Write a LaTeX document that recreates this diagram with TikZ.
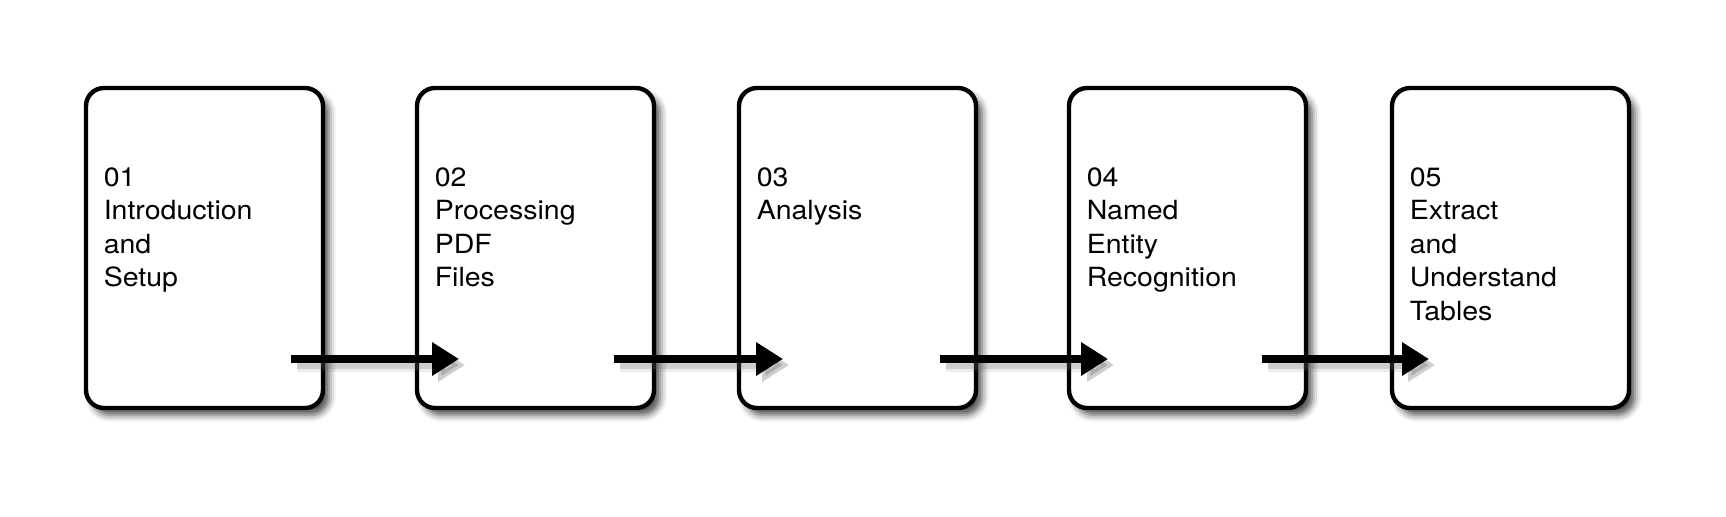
\documentclass[tikz,border=0pt]{standalone}
\usepackage{fontspec}
\setmainfont{TeX Gyre Heros}[FakeStretch=1.08]
\usetikzlibrary{arrows.meta,shadows.blur}
\tikzset{every picture/.style={line width=0.75pt}}
\tikzset{
  stepbox/.style={draw, line width=2.2pt, rounded corners=9pt, fill=white,
    minimum width=118.5pt, minimum height=160pt, inner sep=0pt, outer sep=0pt,
    anchor=north west,
    blur shadow={shadow xshift=3pt, shadow yshift=-3.5pt, shadow blur radius=3.5pt, shadow opacity=70}},
  steptext/.style={anchor=north west, inner sep=0pt, align=left,
    font=\fontsize{13.2pt}{16.75pt}\selectfont},
  flowarrow/.style={line width=4pt, -{Triangle[length=13.5pt,width=16pt]}},
  flowshadow/.style={flowarrow, draw=black!60, fill=black!60, opacity=0.22},
  flowhalo/.style={flowshadow, line width=6.5pt, opacity=0.12}
}

\begin{document}
\begin{tikzpicture}[x=0.5pt,y=0.5pt,yscale=-1,xscale=1]
\useasboundingbox (0,0) rectangle (1726,516);

%Rounded Rect 
\node[stepbox] (s1) at (86,88) {};
%Rounded Rect 
\node[stepbox] (s2) at (417,88) {};
%Rounded Rect 
\node[stepbox] (s3) at (739,88) {};
%Rounded Rect 
\node[stepbox] (s4) at (1069,88) {};
%Rounded Rect 
\node[stepbox] (s5) at (1392,88) {};

% Text Node
\node[steptext] (t1) at ([xshift=8.5pt,yshift=39.5pt]s1.north west) {01\\Introduction\\and\\Setup};
% Text Node
\node[steptext] (t2) at ([xshift=8.5pt,yshift=39.5pt]s2.north west) {02\\Processing\\PDF\\Files};
% Text Node
\node[steptext] (t3) at ([xshift=8.5pt,yshift=39.5pt]s3.north west) {03\\Analysis};
% Text Node
\node[steptext] (t4) at ([xshift=8.5pt,yshift=39.5pt]s4.north west) {04\\Named\\Entity\\Recognition};
% Text Node
\node[steptext] (t5) at ([xshift=8.5pt,yshift=39.5pt]s5.north west) {05\\Extract\\and\\Understand\\Tables};

% arrow ends
\coordinate (o1) at ([xshift=-16pt,yshift=-24.5pt]s1.south east);
\coordinate (i2) at ([xshift=21pt,yshift=-24.5pt]s2.south west);
\coordinate (o2) at ([xshift=-20pt,yshift=-24.5pt]s2.south east);
\coordinate (i3) at ([xshift=22pt,yshift=-24.5pt]s3.south west);
\coordinate (o3) at ([xshift=-18pt,yshift=-24.5pt]s3.south east);
\coordinate (i4) at ([xshift=19.5pt,yshift=-24.5pt]s4.south west);
\coordinate (o4) at ([xshift=-22pt,yshift=-24.5pt]s4.south east);
\coordinate (i5) at ([xshift=18.5pt,yshift=-24.5pt]s5.south west);

%Straight Lines 
\draw[flowhalo] ([xshift=3pt,yshift=3pt]o1) -- ([xshift=3pt,yshift=3pt]i2);
\draw[flowhalo] ([xshift=3pt,yshift=3pt]o2) -- ([xshift=3pt,yshift=3pt]i3);
\draw[flowhalo] ([xshift=3pt,yshift=3pt]o3) -- ([xshift=3pt,yshift=3pt]i4);
\draw[flowhalo] ([xshift=3pt,yshift=3pt]o4) -- ([xshift=3pt,yshift=3pt]i5);
\draw[flowshadow] ([xshift=3pt,yshift=3pt]o1) -- ([xshift=3pt,yshift=3pt]i2);
\draw[flowshadow] ([xshift=3pt,yshift=3pt]o2) -- ([xshift=3pt,yshift=3pt]i3);
\draw[flowshadow] ([xshift=3pt,yshift=3pt]o3) -- ([xshift=3pt,yshift=3pt]i4);
\draw[flowshadow] ([xshift=3pt,yshift=3pt]o4) -- ([xshift=3pt,yshift=3pt]i5);
%Straight Lines 
\draw[flowarrow] (o1) -- (i2);
\draw[flowarrow] (o2) -- (i3);
\draw[flowarrow] (o3) -- (i4);
\draw[flowarrow] (o4) -- (i5);
\end{tikzpicture}
\end{document}
